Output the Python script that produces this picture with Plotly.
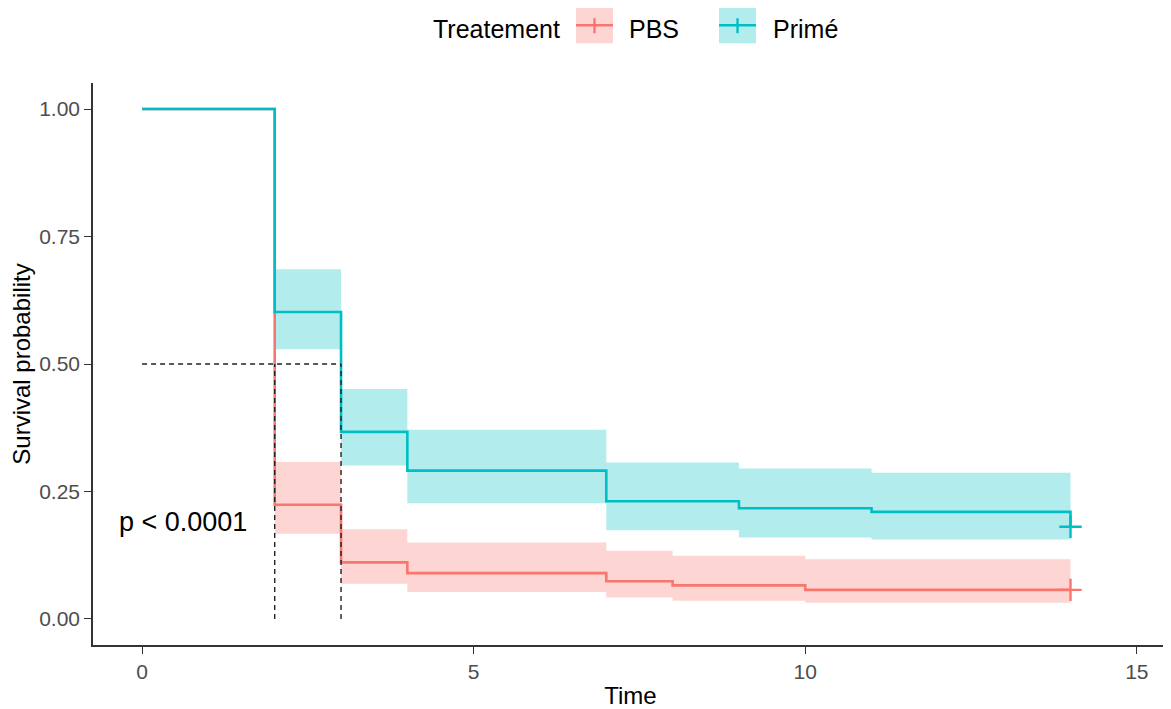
import plotly.graph_objects as go

# ---- data ----
groups = ["PBS", "Primé"]
colors = {"PBS": "#F8766D", "Primé": "#00BFC4"}
fills = {"PBS": "rgba(248,118,109,0.3)", "Primé": "rgba(0,191,196,0.3)"}

pbs_time = [0, 2, 3, 4, 7, 8, 10, 14]
pbs_surv = [1.0, 0.224, 0.111, 0.090, 0.074, 0.066, 0.057, 0.057]
pbs_ci_time = [2, 3, 4, 7, 8, 10, 14]
pbs_upper = [0.308, 0.176, 0.150, 0.134, 0.124, 0.117, 0.117]
pbs_lower = [0.167, 0.069, 0.053, 0.042, 0.036, 0.032, 0.032]
pbs_censor_time = [14]
pbs_censor_surv = [0.057]

prime_time = [0, 2, 3, 4, 7, 9, 11, 14]
prime_surv = [1.0, 0.602, 0.367, 0.291, 0.231, 0.217, 0.210, 0.181]
prime_ci_time = [2, 3, 4, 7, 9, 11, 14]
prime_upper = [0.686, 0.451, 0.371, 0.307, 0.295, 0.287, 0.287]
prime_lower = [0.529, 0.301, 0.227, 0.174, 0.160, 0.156, 0.156]
prime_censor_time = [14]
prime_censor_surv = [0.181]

median_times = [2, 3]
median_level = 0.5
pval_text = "p < 0.0001"
x_ticks = [0, 5, 10, 15]
y_ticks = [0.00, 0.25, 0.50, 0.75, 1.00]
y_ticklabels = ["0.00", "0.25", "0.50", "0.75", "1.00"]

series = {
    "PBS": (pbs_time, pbs_surv, pbs_ci_time, pbs_upper, pbs_lower, pbs_censor_time, pbs_censor_surv),
    "Primé": (prime_time, prime_surv, prime_ci_time, prime_upper, prime_lower, prime_censor_time, prime_censor_surv),
}

FONT = "Liberation Sans, Arial, sans-serif"
fig = go.Figure()

# confidence bands
for g in groups:
    t, s, ct, up, lo, _, _ = series[g]
    fig.add_trace(go.Scatter(x=ct, y=up, mode="lines", line=dict(width=0, shape="hv"),
                             showlegend=False, hoverinfo="skip"))
    fig.add_trace(go.Scatter(x=ct, y=lo, mode="lines", line=dict(width=0, shape="hv"),
                             fill="tonexty", fillcolor=fills[g], showlegend=False, hoverinfo="skip"))

# survival curves
for g in groups:
    t, s, ct, up, lo, cx, cy = series[g]
    fig.add_trace(go.Scatter(x=t, y=s, mode="lines", name=g,
                             line=dict(color=colors[g], width=2.6, shape="hv"), showlegend=False))
    fig.add_trace(go.Scatter(x=cx, y=cy, mode="markers", showlegend=False,
                             marker=dict(symbol="cross-thin", size=16,
                                         line=dict(color=colors[g], width=2.4))))

# median lines
fig.add_trace(go.Scatter(x=[0, max(median_times)], y=[median_level, median_level], mode="lines",
                         line=dict(color="#222222", width=1.4, dash="5px,4px"), showlegend=False))
for mt in median_times:
    fig.add_trace(go.Scatter(x=[mt, mt], y=[0, median_level], mode="lines",
                             line=dict(color="#222222", width=1.4, dash="5px,4px"), showlegend=False))

# layout geometry (pixels); page body adds an 8px offset
OFF = 8
W, H = 1171 - OFF, 709 - OFF
L, R, T, B = 93 - OFF, 3, 83 - OFF, 62
pw, ph = W - L - R, H - T - B
def px(x):
    return (x - OFF - L) / pw
def py(y):
    return (H - B - (y - OFF)) / ph

annotations = [
    dict(x=0.62, y=0.19, xref="x", yref="y", text=pval_text, showarrow=False,
         font=dict(family=FONT, size=27, color="black")),
    dict(x=px(431), y=py(29), xref="paper", yref="paper", text="Treatement", showarrow=False,
         xanchor="left", yanchor="middle", font=dict(family=FONT, size=25, color="black")),
]
shapes = []
legend_items = [("PBS", 576, 627), ("Primé", 719, 771)]
for g, bx, tx in legend_items:
    shapes.append(dict(type="rect", xref="paper", yref="paper",
                       x0=px(bx), x1=px(bx + 37), y0=py(43), y1=py(7),
                       fillcolor=fills[g], line=dict(width=0), layer="above"))
    shapes.append(dict(type="line", xref="paper", yref="paper",
                       x0=px(bx), x1=px(bx + 37), y0=py(25), y1=py(25),
                       line=dict(color=colors[g], width=2.4), layer="above"))
    shapes.append(dict(type="line", xref="paper", yref="paper",
                       x0=px(bx + 18.5), x1=px(bx + 18.5), y0=py(18), y1=py(33),
                       line=dict(color=colors[g], width=2.4), layer="above"))
    annotations.append(dict(x=px(tx), y=py(29), xref="paper", yref="paper", text=g,
                            showarrow=False, xanchor="left", yanchor="middle",
                            font=dict(family=FONT, size=25, color="black")))

fig.update_layout(
    width=W, height=H,
    margin=dict(l=L, r=R, t=T, b=B),
    paper_bgcolor="white", plot_bgcolor="white",
    showlegend=False,
    annotations=annotations, shapes=shapes,
    font=dict(family=FONT),
)
fig.update_xaxes(range=[-0.74, 15.47], tickvals=x_ticks, showgrid=False, zeroline=False,
                 showline=True, linecolor="#333333", linewidth=1.6,
                 ticks="outside", ticklen=7, tickwidth=1.4, tickcolor="#333333",
                 tickfont=dict(family=FONT, size=21, color="#4D4D4D"),
                 title=dict(text="Time", font=dict(family=FONT, size=24, color="black"), standoff=6))
fig.update_yaxes(range=[-0.051, 1.051], tickvals=y_ticks, ticktext=y_ticklabels,
                 showgrid=False, zeroline=False,
                 showline=True, linecolor="#333333", linewidth=1.6,
                 ticks="outside", ticklen=7, tickwidth=1.4, tickcolor="#333333",
                 tickfont=dict(family=FONT, size=21, color="#4D4D4D"),
                 title=dict(text="Survival probability", font=dict(family=FONT, size=24, color="black"), standoff=2))

fig.write_html("out.html")
